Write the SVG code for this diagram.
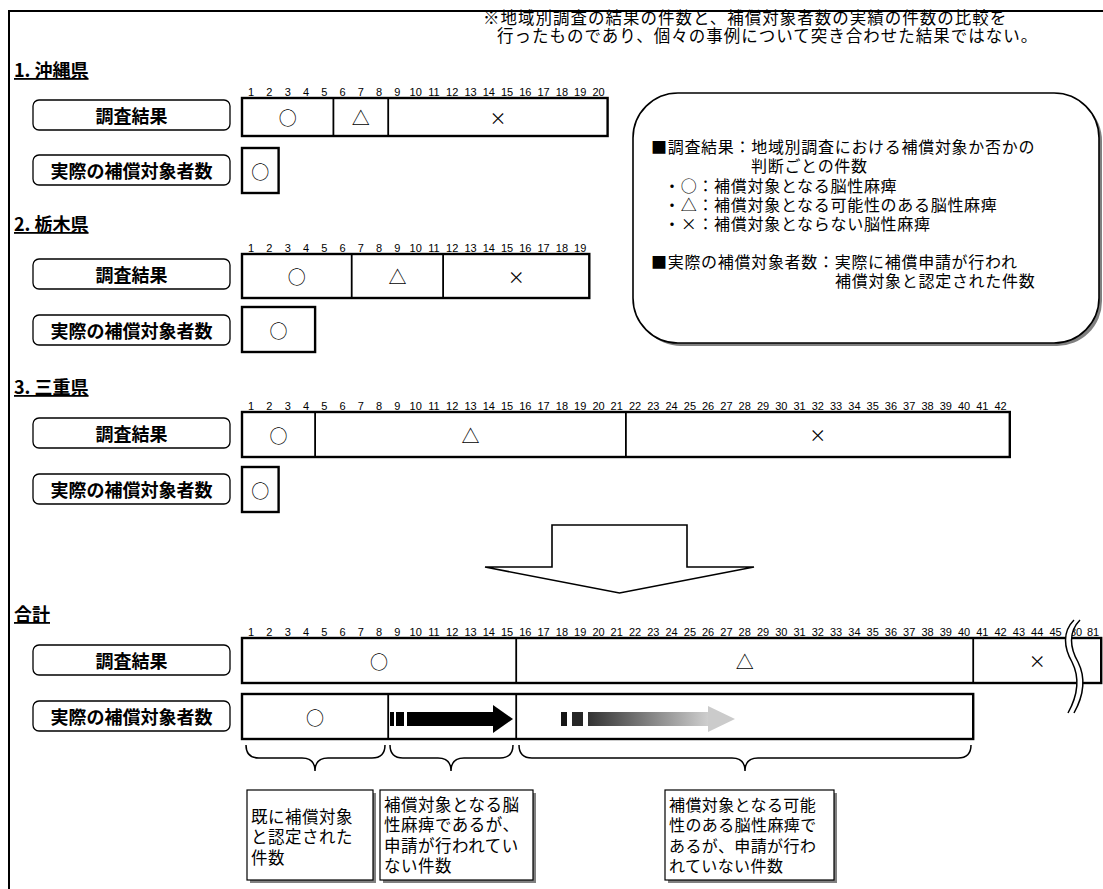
<svg xmlns="http://www.w3.org/2000/svg" width="1103" height="889" viewBox="0 0 1103 889">
<style>
.frame{stroke:#000;stroke-width:2;fill:none}
.bar{fill:#fff;stroke:#000;stroke-width:2.4}
.dv{stroke:#000;stroke-width:1.8}
.lbl{fill:#fff;stroke:#000;stroke-width:1.3}
.lt{font-family:'Noto Sans CJK JP',sans-serif;font-weight:700;font-size:18px;text-anchor:middle;dominant-baseline:central}
.n{font-family:'Liberation Sans Narrow','Liberation Sans',sans-serif;font-size:11px;text-anchor:middle;fill:#000}
.sym{font-family:'Noto Sans CJK JP',sans-serif;font-size:18px;text-anchor:middle;dominant-baseline:central}
.x{font-family:'Noto Sans CJK JP',sans-serif;font-size:17px;text-anchor:middle;dominant-baseline:central}
.hd{font-family:'Noto Sans CJK JP',sans-serif;font-weight:700;font-size:18px;text-decoration:underline}
.t{font-family:'Noto Sans CJK JP',sans-serif;font-size:16px;letter-spacing:0.7px}
.hn{font-family:'Noto Sans CJK JP',sans-serif;font-size:16.5px;letter-spacing:1px}
.bt{font-family:'Noto Sans CJK JP',sans-serif;font-size:16.5px;letter-spacing:0.5px}
.bt3{font-family:'Noto Sans CJK JP',sans-serif;font-size:16px;letter-spacing:0.4px}
.br{fill:none;stroke:#000;stroke-width:1.5}
.box{fill:#fff;stroke:#000;stroke-width:1.2}
.sh{fill:#808080}
</style>
<defs>
<linearGradient id="gr" x1="0" y1="0" x2="1" y2="0">
<stop offset="0" stop-color="#333"/>
<stop offset="1" stop-color="#cfcfcf"/>
</linearGradient>
</defs>
<rect width="1103" height="889" fill="#fff"/>
<path class="frame" d="M9,889 V11 H1103"/>
<g id="note">
<text class="hn" x="483" y="24">※地域別調査の結果の件数と、補償対象者数の実績の件数の比較を</text>
<text class="hn" x="497" y="42">行ったものであり、個々の事例について突き合わせた結果ではない。</text>
</g>
<g id="legend">
<rect x="636" y="96" width="466" height="250" rx="45" class="sh"/>
<rect x="633" y="93" width="466" height="250" rx="45" fill="#fff" stroke="#000" stroke-width="1.6"/>
<text class="t" x="651" y="153">■調査結果：地域別調査における補償対象か否かの</text>
<text class="t" x="751" y="172">判断ごとの件数</text>
<text class="t" x="664" y="192">・○：補償対象となる脳性麻痺</text>
<text class="t" x="664" y="211">・△：補償対象となる可能性のある脳性麻痺</text>
<text class="t" x="664" y="230">・×：補償対象とならない脳性麻痺</text>
<text class="t" x="651" y="268">■実際の補償対象者数：実際に補償申請が行われ</text>
<text class="t" x="835" y="287">補償対象と認定された件数</text>
</g>
<g id="okinawa">
<text class="hd" x="14" y="77">1. 沖縄県</text>
<text class="n" y="96"><tspan x="251.1">1</tspan><tspan x="269.4">2</tspan><tspan x="287.7">3</tspan><tspan x="306">4</tspan><tspan x="324.3">5</tspan><tspan x="342.5">6</tspan><tspan x="360.8">7</tspan><tspan x="379.1">8</tspan><tspan x="397.4">9</tspan><tspan x="415.7">10</tspan><tspan x="434">11</tspan><tspan x="452.2">12</tspan><tspan x="470.5">13</tspan><tspan x="488.8">14</tspan><tspan x="507.1">15</tspan><tspan x="525.3">16</tspan><tspan x="543.6">17</tspan><tspan x="561.9">18</tspan><tspan x="580.2">19</tspan><tspan x="598.5">20</tspan></text>
<rect class="lbl" x="33" y="100" width="197" height="30" rx="6"/>
<text class="lt" x="131.5" y="115">調査結果</text>
<rect class="bar" x="242" y="98" width="365.6" height="38"/>
<line class="dv" x1="333.4" y1="98" x2="333.4" y2="136"/>
<line class="dv" x1="388.2" y1="98" x2="388.2" y2="136"/>
<text class="sym" x="287.7" y="117">○</text>
<text class="sym" x="360.8" y="117">△</text>
<text class="x" x="497.9" y="117">×</text>
<rect class="lbl" x="33" y="155" width="197" height="30" rx="6"/>
<text class="lt" x="131.5" y="170">実際の補償対象者数</text>
<rect class="bar" x="242" y="148" width="36.6" height="45"/>
<text class="sym" x="260.3" y="170.5">○</text>
</g>
<g id="tochigi">
<text class="hd" x="14" y="231">2. 栃木県</text>
<text class="n" y="252"><tspan x="251.1">1</tspan><tspan x="269.4">2</tspan><tspan x="287.7">3</tspan><tspan x="306">4</tspan><tspan x="324.3">5</tspan><tspan x="342.5">6</tspan><tspan x="360.8">7</tspan><tspan x="379.1">8</tspan><tspan x="397.4">9</tspan><tspan x="415.7">10</tspan><tspan x="434">11</tspan><tspan x="452.2">12</tspan><tspan x="470.5">13</tspan><tspan x="488.8">14</tspan><tspan x="507.1">15</tspan><tspan x="525.3">16</tspan><tspan x="543.6">17</tspan><tspan x="561.9">18</tspan><tspan x="580.2">19</tspan></text>
<rect class="lbl" x="33" y="259" width="197" height="30" rx="6"/>
<text class="lt" x="131.5" y="274">調査結果</text>
<rect class="bar" x="242" y="254" width="347.3" height="44"/>
<line class="dv" x1="351.7" y1="254" x2="351.7" y2="298"/>
<line class="dv" x1="443.1" y1="254" x2="443.1" y2="298"/>
<text class="sym" x="296.8" y="276">○</text>
<text class="sym" x="397.4" y="276">△</text>
<text class="x" x="516.2" y="276">×</text>
<rect class="lbl" x="33" y="315" width="197" height="30" rx="6"/>
<text class="lt" x="131.5" y="330">実際の補償対象者数</text>
<rect class="bar" x="242" y="307" width="73.1" height="45"/>
<text class="sym" x="278.6" y="329.5">○</text>
</g>
<g id="mie">
<text class="hd" x="14" y="394">3. 三重県</text>
<text class="n" y="410"><tspan x="251.1">1</tspan><tspan x="269.4">2</tspan><tspan x="287.7">3</tspan><tspan x="306">4</tspan><tspan x="324.3">5</tspan><tspan x="342.5">6</tspan><tspan x="360.8">7</tspan><tspan x="379.1">8</tspan><tspan x="397.4">9</tspan><tspan x="415.7">10</tspan><tspan x="434">11</tspan><tspan x="452.2">12</tspan><tspan x="470.5">13</tspan><tspan x="488.8">14</tspan><tspan x="507.1">15</tspan><tspan x="525.3">16</tspan><tspan x="543.6">17</tspan><tspan x="561.9">18</tspan><tspan x="580.2">19</tspan><tspan x="598.5">20</tspan><tspan x="616.7">21</tspan><tspan x="635">22</tspan><tspan x="653.3">23</tspan><tspan x="671.6">24</tspan><tspan x="689.9">25</tspan><tspan x="708.1">26</tspan><tspan x="726.4">27</tspan><tspan x="744.7">28</tspan><tspan x="763">29</tspan><tspan x="781.3">30</tspan><tspan x="799.5">31</tspan><tspan x="817.8">32</tspan><tspan x="836.1">33</tspan><tspan x="854.4">34</tspan><tspan x="872.7">35</tspan><tspan x="890.9">36</tspan><tspan x="909.2">37</tspan><tspan x="927.5">38</tspan><tspan x="945.8">39</tspan><tspan x="964.1">40</tspan><tspan x="982.3">41</tspan><tspan x="1000.6">42</tspan></text>
<rect class="lbl" x="33" y="418" width="197" height="30" rx="6"/>
<text class="lt" x="131.5" y="433">調査結果</text>
<rect class="bar" x="242" y="412" width="767.8" height="45"/>
<line class="dv" x1="315.1" y1="412" x2="315.1" y2="457"/>
<line class="dv" x1="625.9" y1="412" x2="625.9" y2="457"/>
<text class="sym" x="278.6" y="434.5">○</text>
<text class="sym" x="470.5" y="434.5">△</text>
<text class="x" x="817.8" y="434.5">×</text>
<rect class="lbl" x="33" y="474" width="197" height="30" rx="6"/>
<text class="lt" x="131.5" y="489">実際の補償対象者数</text>
<rect class="bar" x="242" y="467" width="36.6" height="45"/>
<text class="sym" x="260.3" y="489.5">○</text>
</g>
<g id="down-arrow">
<path d="M552,525 H687 V567 H754 L619.5,593 L485,567 H552 Z" fill="#fff" stroke="#000" stroke-width="1.6"/>
</g>
<g id="total">
<text class="hd" x="14" y="621">合計</text>
<text class="n" y="636"><tspan x="251.1">1</tspan><tspan x="269.4">2</tspan><tspan x="287.7">3</tspan><tspan x="306">4</tspan><tspan x="324.3">5</tspan><tspan x="342.5">6</tspan><tspan x="360.8">7</tspan><tspan x="379.1">8</tspan><tspan x="397.4">9</tspan><tspan x="415.7">10</tspan><tspan x="434">11</tspan><tspan x="452.2">12</tspan><tspan x="470.5">13</tspan><tspan x="488.8">14</tspan><tspan x="507.1">15</tspan><tspan x="525.3">16</tspan><tspan x="543.6">17</tspan><tspan x="561.9">18</tspan><tspan x="580.2">19</tspan><tspan x="598.5">20</tspan><tspan x="616.7">21</tspan><tspan x="635">22</tspan><tspan x="653.3">23</tspan><tspan x="671.6">24</tspan><tspan x="689.9">25</tspan><tspan x="708.1">26</tspan><tspan x="726.4">27</tspan><tspan x="744.7">28</tspan><tspan x="763">29</tspan><tspan x="781.3">30</tspan><tspan x="799.5">31</tspan><tspan x="817.8">32</tspan><tspan x="836.1">33</tspan><tspan x="854.4">34</tspan><tspan x="872.7">35</tspan><tspan x="890.9">36</tspan><tspan x="909.2">37</tspan><tspan x="927.5">38</tspan><tspan x="945.8">39</tspan><tspan x="964.1">40</tspan><tspan x="982.3">41</tspan><tspan x="1000.6">42</tspan><tspan x="1018.9">43</tspan><tspan x="1037.2">44</tspan><tspan x="1055.5">45</tspan><tspan x="1076">80</tspan><tspan x="1093">81</tspan></text>
<rect class="lbl" x="33" y="645" width="197" height="30" rx="6"/>
<text class="lt" x="131.5" y="660">調査結果</text>
<rect class="bar" x="242" y="638" width="859.2" height="45"/>
<line class="dv" x1="516.2" y1="638" x2="516.2" y2="683"/>
<line class="dv" x1="973.2" y1="638" x2="973.2" y2="683"/>
<text class="sym" x="379.1" y="660.5">○</text>
<text class="sym" x="744.7" y="660.5">△</text>
<text class="x" x="1037.2" y="660.5">×</text>
<path d="M1074,620 C1062,632 1064,648 1072,662 C1080,678 1078,695 1068,713 L1074,713 C1084,695 1086,678 1078,662 C1070,648 1068,632 1080,620 Z" fill="#fff"/>
<path class="br" d="M1074,620 C1062,632 1064,648 1072,662 C1080,678 1078,695 1068,713"/>
<path class="br" d="M1080,620 C1068,632 1070,648 1078,662 C1086,678 1084,695 1074,713"/>
<rect class="lbl" x="33" y="701" width="197" height="30" rx="6"/>
<text class="lt" x="131.5" y="716">実際の補償対象者数</text>
<rect class="bar" x="242" y="694" width="731.2" height="45"/>
<line class="dv" x1="388.2" y1="694" x2="388.2" y2="739"/>
<line class="dv" x1="516.2" y1="694" x2="516.2" y2="739"/>
<text class="sym" x="315.1" y="716.5">○</text>
<rect x="390" y="712" width="4" height="14" fill="#000"/>
<rect x="396" y="712" width="8" height="14" fill="#000"/>
<rect x="407" y="712" width="87" height="14" fill="#000"/>
<polygon points="493,705 513,719 493,733" fill="#000"/>
<rect x="561" y="712" width="6" height="14" fill="#151515"/>
<rect x="572" y="712" width="11" height="14" fill="#262626"/>
<rect x="588" y="712" width="121" height="14" fill="url(#gr)"/>
<polygon points="708,706 735,719 708,732" fill="#cbcbcb"/>
</g>
<g id="braces">
<path class="br" d="M246,745 Q246,758 259,758 H302 Q315,758 315,771 Q315,758 328,758 H372 Q385,758 385,745"/>
<path class="br" d="M390,745 Q390,758 403,758 H438 Q451,758 451,771 Q451,758 464,758 H500 Q513,758 513,745"/>
<path class="br" d="M519,745 Q519,758 532,758 H732 Q745,758 745,771 Q745,758 758,758 H958 Q971,758 971,745"/>
</g>
<g id="note1">
<rect x="250" y="793" width="126" height="90" class="sh"/>
<rect x="247" y="790" width="126" height="90" class="box"/>
<text class="bt" x="251" y="823">既に補償対象</text>
<text class="bt" x="251" y="843">と認定された</text>
<text class="bt" x="251" y="864">件数</text>
</g>
<g id="note2">
<rect x="383" y="793" width="153" height="90" class="sh"/>
<rect x="380" y="790" width="153" height="90" class="box"/>
<text class="bt" x="384" y="811">補償対象となる脳</text>
<text class="bt" x="384" y="831">性麻痺であるが、</text>
<text class="bt" x="384" y="852">申請が行われてい</text>
<text class="bt" x="384" y="872">ない件数</text>
</g>
<g id="note3">
<rect x="668" y="793" width="169" height="90" class="sh"/>
<rect x="665" y="790" width="169" height="90" class="box"/>
<text class="bt3" x="669" y="811">補償対象となる可能</text>
<text class="bt3" x="669" y="831">性のある脳性麻痺で</text>
<text class="bt3" x="669" y="852">あるが、申請が行わ</text>
<text class="bt3" x="669" y="872">れていない件数</text>
</g>
</svg>
